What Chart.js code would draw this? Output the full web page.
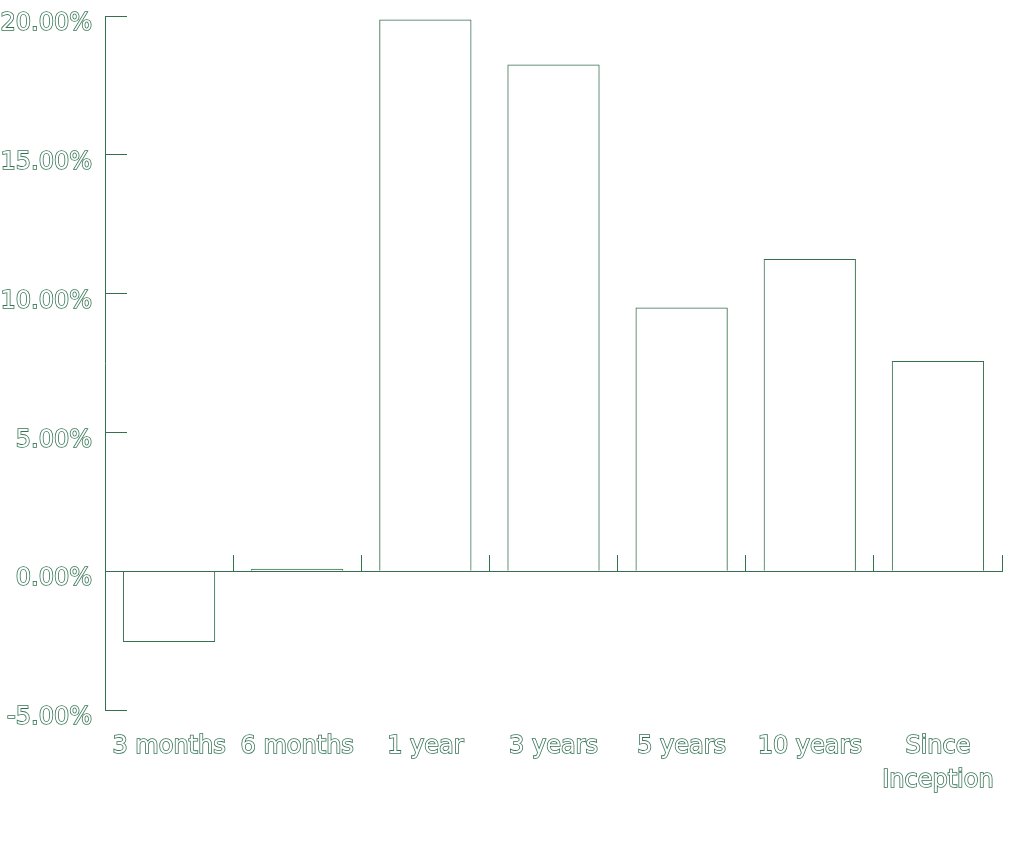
<!DOCTYPE html>
<html>
<head>
<meta charset="utf-8">
<script src="https://cdn.jsdelivr.net/npm/chart.js@4"></script>
<style>
  html, body { margin: 0; padding: 0; background: #ffffff; }
  #wrap { width: 1024px; height: 850px; }
</style>
</head>
<body>
<div id="wrap"><canvas id="returnsChart"></canvas></div>
<script>
// Chart data
const categories = ["3 months", "6 months", "1 year", "3 years", "5 years", "10 years", ["Since", "Inception"]];
const returnValues = [-2.55, 0.09, 19.87, 18.25, 9.5, 11.25, 7.57];
const yTicks = [-5, 0, 5, 10, 15, 20];

const lineColor = "#35704f";
const textColor = "#347352";

const ctx = document.getElementById("returnsChart");

window.returnsChart = new Chart(ctx, {
  type: "bar",
  data: {
    labels: categories,
    datasets: [
      {
        data: returnValues,
        backgroundColor: "rgba(255, 255, 255, 0)",
        borderColor: lineColor,
        borderWidth: 1,
        xAxisID: "x",
      },
    ],
  },
  options: {
    responsive: true,
    maintainAspectRatio: false,
    animation: false,
    layout: {
      padding: { top: 16, right: 22, bottom: 0, left: 0 },
    },
    plugins: {
      legend: { display: false },
      tooltip: { enabled: false },
    },
    scales: {
      // axis drawn on the zero line, ticks pointing up between bars
      x: {
        type: "category",
        position: { y: 0 },
        ticks: { display: false },
        grid: {
          offset: true,
          drawOnChartArea: false,
          drawTicks: true,
          tickLength: -17,
          color: lineColor,
          lineWidth: 1,
        },
        border: { display: true, color: lineColor, width: 1 },
      },
      // labels only, at the bottom
      x2: {
        type: "category",
        labels: categories,
        position: "bottom",
        grid: { display: false },
        border: { display: false },
        ticks: {
          padding: 11,
          maxRotation: 0,
          autoSkip: false,
          color: "#ffffff",
          textStrokeColor: textColor,
          textStrokeWidth: 1.6,
          font: { family: "DejaVu Sans", size: 24, lineHeight: 1.45 },
        },
        afterFit: (scale) => {
          scale.height = 140;
        },
      },
      y: {
        min: -5,
        max: 20,
        afterBuildTicks: (scale) => {
          scale.ticks = yTicks.map((v) => ({ value: v }));
        },
        grid: {
          drawOnChartArea: false,
          drawTicks: true,
          tickLength: -22,
          color: lineColor,
          lineWidth: 1,
        },
        border: { display: true, color: lineColor, width: 1 },
        ticks: {
          padding: 35,
          labelOffset: 8,
          color: "#ffffff",
          textStrokeColor: textColor,
          textStrokeWidth: 1.6,
          font: { family: "DejaVu Sans", size: 24 },
          callback: (value) => Number(value).toFixed(2) + "%",
        },
        afterFit: (scale) => {
          scale.width = 105;
          // tick padding is used for label gap only, not for top/bottom room
          scale.paddingTop = 14;
          scale.paddingBottom = 14;
        },
      },
    },
  },
});
</script>
</body>
</html>
